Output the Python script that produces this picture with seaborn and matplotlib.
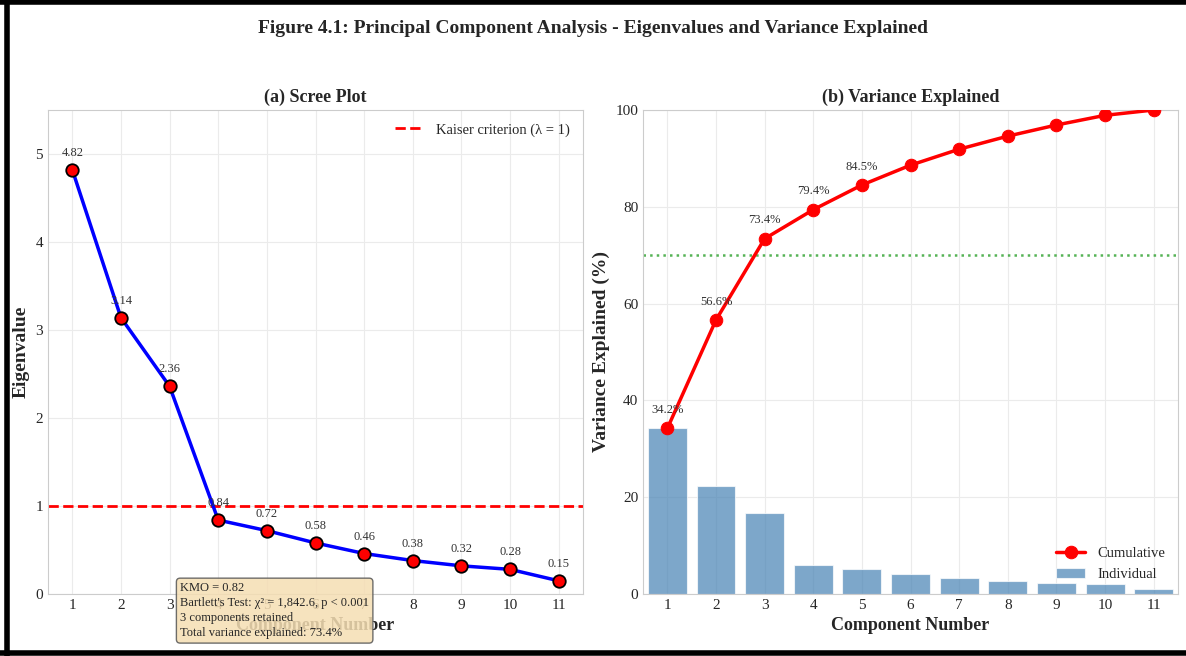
import numpy as np
import pandas as pd
import matplotlib
matplotlib.use('Agg')
import matplotlib.pyplot as plt
from matplotlib.lines import Line2D
import seaborn as sns

# Data
components = list(range(1, 12))
eigenvalues = [4.82, 3.14, 2.36, 0.84, 0.72, 0.58, 0.46, 0.38, 0.32, 0.28, 0.15]
individual_var = [34.2, 22.4, 16.8, 6.0, 5.1, 4.1, 3.3, 2.7, 2.3, 2.0, 1.1]
cumulative_var = [34.2, 56.6, 73.4, 79.4, 84.5, 88.6, 91.9, 94.6, 96.9, 98.9, 100.0]
n_cum_labels = 5
kaiser = 1.0
threshold = 70
stats_text = ("KMO = 0.82\n"
              "Bartlett's Test: \u03c7\u00b2 = 1,842.6, p < 0.001\n"
              "3 components retained\n"
              "Total variance explained: 73.4%")

sns.set_style('whitegrid', {'grid.color': '#ebebeb', 'axes.edgecolor': '#cccccc'})
plt.rcParams['font.family'] = ['Liberation Serif', 'DejaVu Serif']
plt.rcParams['mathtext.fontset'] = 'stix'

fig = plt.figure(figsize=(11.86, 6.56), dpi=100)
ax1 = fig.add_axes([48 / 1186, 1 - 594 / 656, 535 / 1186, 484 / 656])
ax2 = fig.add_axes([643 / 1186, 1 - 594 / 656, 535 / 1186, 484 / 656])

fig.suptitle('Figure 4.1: Principal Component Analysis - Eigenvalues and Variance Explained',
             fontsize=14, fontweight='bold', y=0.97)

# --- (a) Scree plot ---
df_eig = pd.DataFrame({'Component': components, 'Eigenvalue': eigenvalues})
sns.lineplot(data=df_eig, x='Component', y='Eigenvalue', ax=ax1, color='blue', linewidth=2.5,
             marker='o', markersize=9, markerfacecolor='red', markeredgecolor='black',
             markeredgewidth=1.3, zorder=3)
ax1.axhline(kaiser, color='red', linestyle='--', linewidth=2, label='Kaiser criterion (\u03bb = 1)')
for c, v in zip(components, eigenvalues):
    ax1.annotate(f'{v:.2f}', (c, v), textcoords='offset points', xytext=(0, 10),
                 ha='center', fontsize=9, color='#333333')
ax1.set_xlim(0.5, 11.5)
ax1.set_ylim(0, 5.5)
ax1.set_xticks(components)
ax1.set_title('(a) Scree Plot', fontsize=13, fontweight='bold', pad=6)
ax1.set_xlabel('Component Number', fontsize=13, fontweight='bold')
ax1.set_ylabel('Eigenvalue', fontsize=14, fontweight='bold')
ax1.tick_params(labelsize=11, length=0)
ax1.legend(loc='upper right', fontsize=10.5, frameon=False)
ax1.text(0.247, 0.025, stats_text, transform=ax1.transAxes, fontsize=9, va='top', ha='left',
         linespacing=1.35, zorder=10,
         bbox=dict(boxstyle='round,pad=0.3', facecolor='wheat', edgecolor='#555555', alpha=0.85))

# --- (b) Variance explained ---
df_var = pd.DataFrame({'Component': components, 'Individual': individual_var,
                       'Cumulative': cumulative_var})
sns.barplot(data=df_var, x='Component', y='Individual', ax=ax2, native_scale=True,
            color='steelblue', saturation=1, alpha=0.7, edgecolor='white', linewidth=0.8,
            label='Individual')
sns.lineplot(data=df_var, x='Component', y='Cumulative', ax=ax2, color='red', linewidth=2.5,
             marker='o', markersize=9, markeredgecolor='red', label='Cumulative', zorder=3)
ax2.axhline(threshold, color='#2ca02c', linestyle=':', linewidth=1.8, alpha=0.8)
for c, v in zip(components[:n_cum_labels], cumulative_var[:n_cum_labels]):
    ax2.annotate(f'{v:.1f}%', (c, v), textcoords='offset points', xytext=(0, 11),
                 ha='center', fontsize=9, color='#333333')
ax2.set_xlim(0.5, 11.5)
ax2.set_ylim(0, 100)
ax2.set_xticks(components)
ax2.set_xticklabels([str(c) for c in components])
ax2.set_title('(b) Variance Explained', fontsize=13, fontweight='bold', pad=6)
ax2.set_xlabel('Component Number', fontsize=13, fontweight='bold')
ax2.set_ylabel('Variance Explained (%)', fontsize=14, fontweight='bold')
ax2.tick_params(labelsize=11, length=0)
handles, labels = ax2.get_legend_handles_labels()
order = [labels.index('Cumulative'), labels.index('Individual')]
ax2.legend([handles[i] for i in order], [labels[i] for i in order],
           loc='lower right', fontsize=10.5, frameon=False)

# screenshot frame
for xs, ys in [([0.006, 0.006], [0, 1]), ([0, 1], [0.997, 0.997]), ([0, 1], [0.005, 0.005])]:
    fig.add_artist(Line2D(xs, ys, transform=fig.transFigure, color='black', linewidth=4))

fig.savefig('out.png', dpi=100)
